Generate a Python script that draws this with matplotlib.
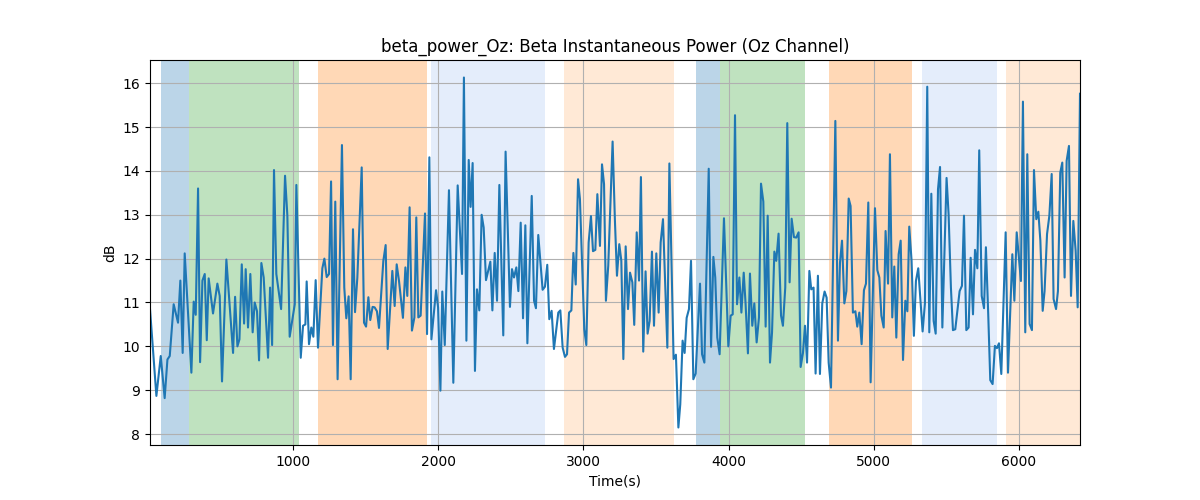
from matplotlib import pyplot as plt
import numpy as np

# time (s) and beta power (dB)
time_s = [15, 59, 89, 116, 135, 151, 178, 208, 224, 240, 254, 300, 316, 330, 346, 360, 376, 392, 406, 419,
          449, 479, 495, 511, 541, 587, 601, 617, 631, 647, 663, 674, 690, 706, 722, 736, 752, 766, 782, 798,
          828, 842, 856, 869, 885, 918, 945, 961, 977, 1012, 1023, 1053, 1069, 1085,
          1094, 1110, 1126, 1140, 1156, 1172, 1202, 1216, 1232, 1248, 1262, 1275, 1291, 1307, 1337, 1353, 1367,
          1383, 1397, 1413, 1427, 1443, 1473, 1489, 1503, 1519, 1532, 1548, 1562, 1578, 1592, 1622, 1638, 1652,
          1684, 1700, 1714, 1730, 1757, 1774, 1787, 1803, 1819, 1836, 1849, 1863, 1879, 1909, 1923, 1939, 1953,
          1985, 1999, 2015, 2028, 2045, 2074, 2104, 2134,
          2164, 2177, 2194, 2210, 2223, 2237, 2253, 2267, 2283, 2299, 2313, 2329, 2359, 2373, 2389, 2405, 2421,
          2448, 2464, 2494, 2508, 2522, 2538, 2552, 2568, 2584, 2600, 2614, 2644, 2660, 2673, 2689, 2719, 2735,
          2751, 2765, 2781, 2797, 2827, 2841, 2857, 2873, 2887, 2901, 2917, 2931, 2947, 2963, 2976, 3006, 3020,
          3036, 3052, 3066, 3082, 3096,
          3114, 3128, 3142, 3155, 3171, 3201, 3217, 3231, 3247, 3261, 3275, 3291, 3307, 3321, 3337, 3350, 3367,
          3383, 3396, 3412, 3428, 3442, 3456, 3472, 3486, 3502, 3518, 3532, 3548, 3578, 3592, 3621, 3637, 3654,
          3667, 3683, 3697, 3711, 3727, 3741, 3757, 3773, 3803, 3817, 3833, 3863, 3879, 3895, 3908, 3922, 3938,
          3968, 3998, 4014, 4028, 4044, 4058, 4074, 4088, 4104, 4117, 4133,
          4147, 4163, 4177, 4193, 4209, 4223, 4239, 4255, 4269, 4285, 4299, 4315, 4328, 4344, 4361, 4374, 4390,
          4404, 4420, 4434, 4450, 4466, 4482, 4496, 4512, 4526, 4540, 4556, 4569, 4585, 4599, 4615, 4629, 4645,
          4661, 4675, 4689, 4705, 4735, 4753, 4767, 4781, 4797, 4811, 4827, 4840, 4856, 4873, 4886, 4900, 4916,
          4932, 4946, 4962, 4978, 5008, 5024, 5038, 5052, 5068, 5081, 5098, 5111, 5127, 5141, 5155, 5171,
          5185, 5201, 5217, 5231, 5244, 5260, 5276, 5290, 5306, 5336, 5352, 5368, 5382, 5396, 5412, 5426, 5442,
          5456, 5472, 5501, 5515, 5531, 5545, 5561, 5591, 5607, 5621, 5637, 5653, 5667, 5683, 5697, 5713, 5726,
          5743, 5759, 5772, 5788, 5802, 5818, 5834, 5848, 5862, 5878, 5908, 5924, 5954, 5968, 5984, 6013, 6027,
          6043, 6057, 6073, 6089, 6103, 6119, 6133, 6147, 6163, 6176, 6193, 6209, 6225, 6238, 6255, 6268, 6284,
          6298, 6314, 6328, 6344, 6358, 6374, 6390, 6404, 6420]
power_db = [10.85, 8.87, 9.78, 8.82, 9.7, 9.78, 10.96, 10.54, 11.5, 9.85, 12.12, 9.4, 11.02, 10.72, 13.6, 9.64, 11.5, 11.65, 10.14, 11.55,
            10.75, 11.43, 11.15, 9.2, 11.98, 9.85, 11.13, 10.0, 10.16, 11.87, 10.52, 11.76, 10.43, 11.65, 10.32, 11.0, 10.8, 9.68, 11.9, 11.57,
            9.74, 11.34, 10.03, 14.02, 11.65, 10.85, 13.89, 12.98, 10.22, 10.96, 13.68, 9.74, 10.47, 10.5,
            11.48, 10.05, 10.43, 10.22, 11.51, 9.97, 11.78, 12.0, 11.58, 11.65, 13.76, 10.03, 13.3, 9.25, 14.59, 11.34, 10.64,
            11.14, 9.25, 12.67, 10.78, 11.57, 14.08, 10.54, 10.45, 11.12, 10.6, 10.9, 10.89, 10.8, 10.42, 11.95, 12.31, 9.94,
            11.72, 10.92, 11.87, 11.49, 10.65, 11.8, 11.15, 13.17, 10.36, 10.66, 12.94, 10.66, 10.7, 13.03, 10.28, 14.31, 10.16,
            11.28, 10.89, 8.99, 11.25, 10.03, 13.56, 9.17, 13.67,
            11.65, 16.13, 10.13, 14.25, 13.18, 14.18, 9.44, 11.3, 10.82, 13.0, 12.71, 11.51, 11.93, 10.82, 12.13, 11.04, 13.68,
            10.25, 14.44, 10.9, 11.76, 11.57, 11.8, 11.26, 12.82, 10.64, 12.76, 10.07, 13.43, 11.04, 10.87, 12.54, 11.29, 11.36,
            11.86, 10.62, 10.81, 9.94, 10.77, 10.82, 9.97, 9.76, 9.82, 10.77, 10.82, 12.13, 11.41, 13.81, 13.36, 10.39, 10.03,
            12.37, 12.97, 12.17, 12.2, 13.47,
            12.29, 14.15, 13.7, 11.04, 11.84, 14.67, 12.86, 11.61, 12.33, 11.95, 9.71, 12.28, 10.85, 11.68, 11.46, 10.49, 12.6,
            11.5, 13.86, 9.88, 11.71, 10.29, 10.58, 12.16, 10.47, 12.12, 10.77, 12.37, 12.9, 9.97, 14.17, 9.71, 9.81, 8.15,
            8.68, 10.13, 9.85, 10.65, 10.85, 11.95, 9.25, 9.38, 11.43, 9.82, 9.63, 14.05, 9.99, 12.04, 11.57, 10.2, 9.82,
            12.92, 10.0, 10.7, 10.73, 15.27, 10.96, 11.57, 10.77, 11.68, 10.96, 9.84,
            11.66, 10.47, 10.98, 10.09, 10.66, 13.71, 13.3, 10.45, 12.98, 9.63, 10.32, 12.16, 11.95, 12.57, 10.7, 10.47, 11.34,
            15.09, 11.46, 12.91, 12.49, 12.48, 12.6, 9.53, 9.85, 10.47, 9.63, 11.72, 11.3, 11.34, 9.38, 11.61, 9.37, 10.98,
            11.25, 11.11, 9.63, 9.06, 15.14, 10.13, 11.91, 12.41, 10.98, 11.26, 13.37, 13.2, 10.77, 10.8, 10.45, 10.77, 10.05,
            11.28, 11.43, 13.28, 9.18, 13.15, 11.74, 11.57, 10.7, 10.43, 12.63, 11.43, 14.38, 10.66, 11.82, 10.2, 12.1,
            12.41, 9.69, 11.04, 10.8, 12.73, 11.95, 10.24, 11.49, 11.78, 10.34, 10.98, 15.92, 10.32, 13.48, 10.58, 10.29, 13.58,
            14.09, 10.43, 13.84, 13.01, 11.34, 10.37, 10.39, 11.26, 11.38, 12.98, 10.37, 10.43, 12.02, 10.73, 12.2, 11.78, 14.47,
            11.15, 10.87, 12.26, 10.73, 9.23, 9.14, 10.01, 9.96, 10.07, 9.37, 12.6, 9.4, 12.1, 11.04, 12.6, 11.49, 15.58,
            10.32, 14.38, 10.51, 10.37, 14.02, 12.9, 13.07, 12.41, 10.81, 11.26, 12.56, 12.98, 13.93, 11.08, 10.85, 11.26, 13.96,
            14.19, 11.57, 14.23, 14.57, 11.15, 12.86, 12.18, 10.89, 15.76]

# condition blocks: (start, end, colour, alpha)
block_start = [90, 283, 1172, 1952, 2869, 3772, 3938, 4690, 5331, 5910]
block_end = [283, 1041, 1924, 2738, 3621, 3938, 4524, 5262, 5848, 6430]
block_color = ['tab:blue', 'tab:green', 'tab:orange', 'cornflowerblue', 'tab:orange',
               'tab:blue', 'tab:green', 'tab:orange', 'cornflowerblue', 'tab:orange']
block_alpha = [0.3, 0.3, 0.3, 0.17, 0.17, 0.3, 0.3, 0.3, 0.17, 0.17]

fig, ax = plt.subplots(figsize=(12, 5), dpi=100)
for s, e, c, a in zip(block_start, block_end, block_color, block_alpha):
    ax.axvspan(s, e, color=c, alpha=a, linewidth=0)
ax.plot(time_s, power_db, color='tab:blue', linewidth=1.5)
ax.set_xlim(time_s[0], time_s[-1])
ax.set_title("beta_power_Oz: Beta Instantaneous Power (Oz Channel)")
ax.set_xlabel("Time(s)")
ax.set_ylabel("dB")
ax.grid(True)
plt.savefig("out.png")
